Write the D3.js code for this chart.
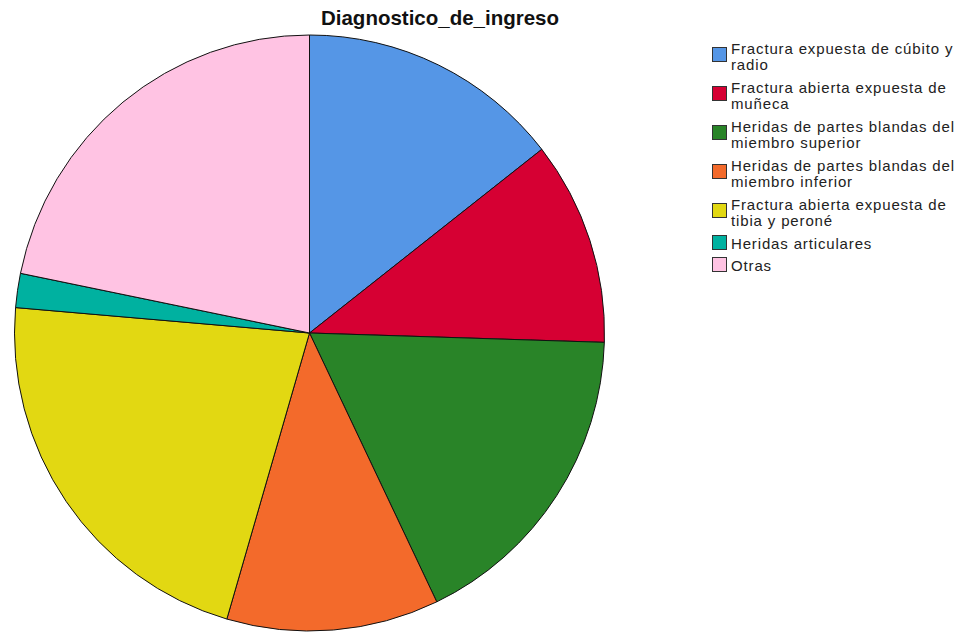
<!DOCTYPE html>
<html>
<head>
<meta charset="utf-8">
<script src="https://cdn.jsdelivr.net/npm/d3@7"></script>
<style>
  html, body { margin: 0; padding: 0; background: #fff; }
  svg { display: block; font-family: "Liberation Sans", Arial, sans-serif; }
</style>
</head>
<body>
<svg id="chart" width="959" height="634"></svg>
<script>
// Diagnóstico de ingreso: share of cases per category (percent)
const categories = [
  ["Fractura expuesta de cúbito y", "radio"],
  ["Fractura abierta expuesta de", "muñeca"],
  ["Heridas de partes blandas del", "miembro superior"],
  ["Heridas de partes blandas del", "miembro inferior"],
  ["Fractura abierta expuesta de", "tibia y peroné"],
  ["Heridas articulares"],
  ["Otras"]
];
const values = [14.43, 11.07, 17.40, 11.62, 21.84, 1.85, 21.79];
const colors = ["#5596E6", "#D60033", "#298428", "#F36A2B", "#E2D812", "#00B1A0", "#FFC3E3"];
const title = "Diagnostico_de_ingreso";

const svg = d3.select("#chart");
const cx = 309.5, cy = 333, rx = 295, ry = 298;

svg.append("text")
  .attr("x", 440).attr("y", 25)
  .attr("text-anchor", "middle")
  .style("font-size", "20.5px").style("font-weight", "bold")
  .style("fill", "#111")
  .text(title);

const data = values.map((v, i) => ({ v, i }));
const pie = d3.pie().value(d => d.v).sort(null);
const arc = d3.arc().innerRadius(0).outerRadius(rx);

svg.append("g")
  .attr("transform", `translate(${cx},${cy}) scale(1,${ry / rx})`)
  .selectAll("path")
  .data(pie(data))
  .join("path")
  .attr("d", arc)
  .attr("fill", d => colors[d.data.i])
  .attr("stroke", "#111")
  .attr("stroke-width", 1)
  .attr("vector-effect", "non-scaling-stroke")
  .attr("stroke-linejoin", "round");

// Legend: two-line labels sit beside a swatch centred on the pair,
// one-line labels have the swatch aligned to the baseline.
const legend = svg.append("g").attr("transform", "translate(712,0)");
let base = 54;
categories.forEach((lines, i) => {
  const g = legend.append("g");
  const two = lines.length > 1;
  const sy = two ? base - 7 : base - 14;
  g.append("rect")
    .attr("x", 0.5).attr("y", sy + 0.5)
    .attr("width", 14).attr("height", 14)
    .attr("fill", colors[i]).attr("stroke", "#333").attr("stroke-width", 1);
  lines.forEach((t, k) => {
    g.append("text")
      .attr("x", 19).attr("y", base + k * 16)
      .style("font-size", "15px").style("letter-spacing", "0.85px")
      .style("fill", "#222")
      .text(t);
  });
  base += two ? 39 : 22;
});
</script>
</body>
</html>
